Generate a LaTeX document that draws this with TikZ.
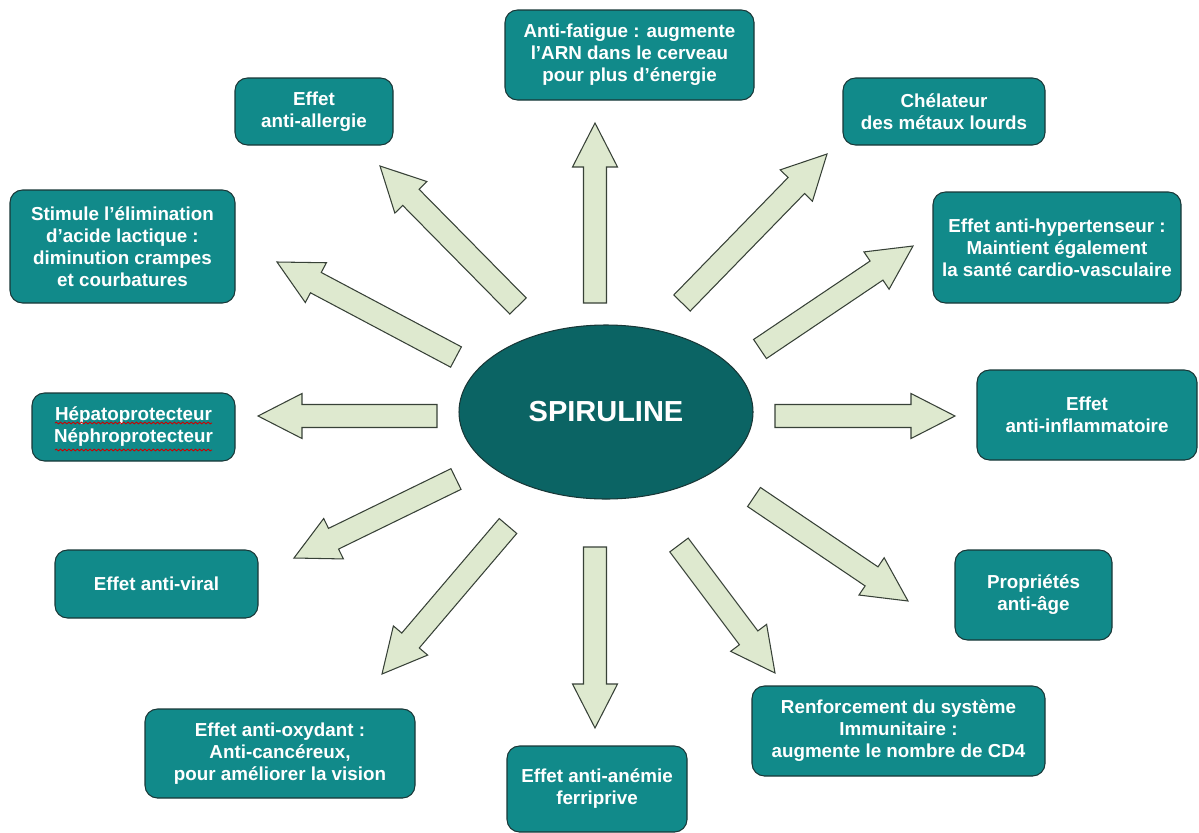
\documentclass[tikz,border=0pt]{standalone}
\usepackage{fontspec}
\setmainfont{Liberation Sans}
\usetikzlibrary{calc,decorations.pathmorphing,shapes.geometric}
\definecolor{boxteal}{RGB}{17,138,138}
\definecolor{elteal}{RGB}{11,100,100}
\definecolor{arrfill}{RGB}{222,233,207}
\definecolor{arrline}{RGB}{55,65,55}
\definecolor{boxline}{RGB}{25,55,55}
\newcommand\barrow[2]{%
  \draw[arrowsty]
    ($(#1)!0.23cm!90:(#2)$) --
    ($(#2)!0.88cm!(#1)!0.23cm!90:(#2)$) --
    ($(#2)!0.88cm!(#1)!0.45cm!90:(#2)$) --
    (#2) --
    ($(#2)!0.88cm!(#1)!0.45cm!-90:(#2)$) --
    ($(#2)!0.88cm!(#1)!0.23cm!-90:(#2)$) --
    ($(#1)!0.23cm!-90:(#2)$) -- cycle;}
\begin{document}
\begin{tikzpicture}[x=0.02cm,y=-0.02cm,
  box/.style={draw=boxline, line width=0.6pt, fill=boxteal, rounded corners=0.25cm,
    text=white, font=\fontsize{10.7}{12.5}\selectfont\bfseries, align=center, inner sep=0pt},
  sz/.style 2 args={minimum width=#1*0.02cm, minimum height=#2*0.02cm},
  arrowsty/.style={draw=arrline, fill=arrfill, line width=0.6pt, line join=miter},
  squig/.style={draw=red!80!black, line width=0.5pt, decorate,
    decoration={snake, amplitude=0.5pt, segment length=2.4pt}}]
\useasboundingbox (0,0) rectangle (1199,832);

% centre
\node[draw=boxline, line width=0.6pt, fill=elteal, ellipse, minimum width=294*0.02cm,
  minimum height=174*0.02cm, inner sep=0pt, text=white,
  font=\fontsize{16.5}{18}\selectfont\bfseries] (sp) at (606,412) {SPIRULINE};

% boxes
\node[box, sz={249}{90}] (b1) at (629.5,55) {Anti-fatigue : augmente\\l’ARN dans le cerveau\\pour plus d’énergie};
\node[box, sz={202}{67}] (b2) at (944,111.5) {Chélateur\\des métaux lourds};
\node[box, sz={248}{111}] (b3) at (1057,247.5) {Effet anti-hypertenseur :\\Maintient également\\la santé cardio-vasculaire};
\node[box, sz={220}{90}] (b4) at (1087,415) {Effet\\anti-inflammatoire};
\node[box, sz={157}{90}] (b5) at (1033.5,595) {Propriétés\\anti-âge};
\node[box, sz={293}{90}] (b6) at (898.5,731) {Renforcement du système\\Immunitaire :\\augmente le nombre de CD4};
\node[box, sz={180}{86}] (b7) at (597,789) {Effet anti-anémie\\ferriprive};
\node[box, sz={270}{89}] (b8) at (280,753.5) {Effet anti-oxydant :\\Anti-cancéreux,\\pour améliorer la vision};
\node[box, sz={203}{68}] (b9) at (156.5,584) {Effet anti-viral};
\node[box, sz={203}{68}] (b10) at (133.5,427) {Hépatoprotecteur\\Néphroprotecteur};
\node[box, sz={225}{113}] (b11) at (122.5,246.5) {Stimule l’élimination\\d’acide lactique :\\diminution crampes\\et courbatures};
\node[box, sz={158}{67}] (b12) at (314,111.5) {Effet\\anti-allergie};

% spell-check marks
\draw[squig] (55,423) -- (212,423);
\draw[squig] (55,450) -- (212,450);

% arrow end points
\coordinate (t1) at (595,303);  \coordinate (h1) at (595,123);
\coordinate (t2) at (682,303);  \coordinate (h2) at (827,154);
\coordinate (t3) at (760,349);  \coordinate (h3) at (913,246);
\coordinate (t4) at (775,416);  \coordinate (h4) at (955,416);
\coordinate (t5) at (754,497);  \coordinate (h5) at (908,601);
\coordinate (t6) at (679,545);  \coordinate (h6) at (775,673);
\coordinate (t7) at (595,547);  \coordinate (h7) at (595,728);
\coordinate (t8) at (508,526);  \coordinate (h8) at (382,674);
\coordinate (t9) at (456,479);  \coordinate (h9) at (294,558);
\coordinate (t10) at (437,416); \coordinate (h10) at (258,416);
\coordinate (t11) at (456,357); \coordinate (h11) at (277,262);
\coordinate (t12) at (518,306); \coordinate (h12) at (380,166);

\foreach \i in {1,...,12}{\barrow{t\i}{h\i}}
\end{tikzpicture}
\end{document}
